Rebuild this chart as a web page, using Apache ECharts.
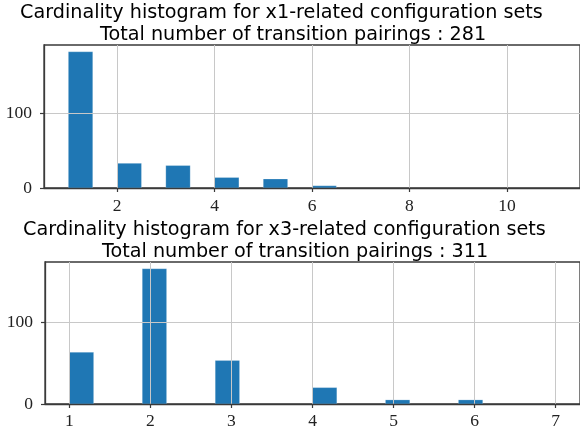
<!DOCTYPE html>
<html>
<head>
<meta charset="utf-8">
<script src="https://cdn.jsdelivr.net/npm/echarts@6/dist/echarts.min.js"></script>
<style>
  html, body { margin: 0; padding: 0; background: #fff; }
  #chart { width: 580px; height: 434px; }
</style>
</head>
<body>
<div id="chart"></div>
<script>
// x1-related configuration sets: histogram bins (left edge, right edge) and counts
const x1BinStart = [1, 2, 3, 4, 5, 6];
const x1BinEnd = [1.5, 2.5, 3.5, 4.5, 5.5, 6.5];
const x1Counts = [182, 33, 30, 14, 12, 3];
const x1Total = 281;
const x1Ticks = [2, 4, 6, 8, 10];

// x3-related configuration sets
const x3BinStart = [1, 1.9, 2.8, 4.0, 4.9, 5.8];
const x3BinEnd = [1.3, 2.2, 3.1, 4.3, 5.2, 6.1];
const x3Counts = [63, 165, 53, 20, 5, 5];
const x3Total = 311;
const x3Ticks = [1, 2, 3, 4, 5, 6, 7];

const yTicks = [0, 100];

const barColor = '#1f77b4';
const spineColor = '#3a3a3a';
const gridColor = '#c8c8c8';
const titleFont = { fontFamily: 'DejaVu Sans', fontSize: 19.2, fontWeight: 'normal', color: '#000' };
const tickFont = { fontFamily: 'Liberation Serif', fontSize: 17.5, color: '#222' };

function rows(starts, ends, counts) {
  return starts.map((s, i) => [s, ends[i], counts[i]]);
}

function renderBin(params, api) {
  const base = api.coord([api.value(0), 0]);
  const top = api.coord([api.value(1), api.value(2)]);
  return {
    type: 'rect',
    shape: { x: base[0], y: top[1], width: top[0] - base[0], height: base[1] - top[1] },
    style: { fill: barColor, stroke: 'rgba(255,255,255,0.35)', lineWidth: 0.6 }
  };
}

function xAxisFor(gridIndex, min, max, ticks, labelMargin) {
  return {
    type: 'value', gridIndex, min, max, z: 3,
    axisLine: { show: true, lineStyle: { color: spineColor, width: 1.3 } },
    axisTick: { show: true, customValues: ticks, length: 4, lineStyle: { color: spineColor, width: 1.2 } },
    axisLabel: Object.assign({ customValues: ticks, margin: labelMargin }, tickFont),
    splitLine: { show: true, lineStyle: { color: gridColor, width: 1 } }
  };
}

function yAxisFor(gridIndex, max) {
  return {
    type: 'value', gridIndex, min: 0, max, z: 3,
    axisLine: { show: true, lineStyle: { color: spineColor, width: 1.3 } },
    axisTick: { show: true, customValues: yTicks, length: 4, lineStyle: { color: spineColor, width: 1.2 } },
    axisLabel: Object.assign({ customValues: yTicks, margin: 12 }, tickFont),
    splitLine: { show: true, lineStyle: { color: gridColor, width: 1 } }
  };
}

const chart = echarts.init(document.getElementById('chart'), null, { renderer: 'canvas' });

chart.setOption({
  animation: false,
  backgroundColor: '#fff',
  title: [
    { text: 'Cardinality histogram for x1-related configuration sets', left: 20, top: 4, padding: 0, textStyle: titleFont },
    { text: 'Total number of transition pairings : ' + x1Total, left: 100, top: 26, padding: 0, textStyle: titleFont },
    { text: 'Cardinality histogram for x3-related configuration sets', left: 23, top: 221, padding: 0, textStyle: titleFont },
    { text: 'Total number of transition pairings : ' + x3Total, left: 102, top: 243, padding: 0, textStyle: titleFont }
  ],
  grid: [
    { left: 44, top: 45, width: 537, height: 143, show: true, borderColor: spineColor, borderWidth: 1.3, backgroundColor: 'transparent' },
    { left: 45, top: 262, width: 538, height: 142, show: true, borderColor: spineColor, borderWidth: 1.3, backgroundColor: 'transparent' }
  ],
  xAxis: [
    xAxisFor(0, 0.5, 11.5, x1Ticks, 9),
    xAxisFor(1, 0.7, 7.3, x3Ticks, 8)
  ],
  yAxis: [
    yAxisFor(0, Math.max(...x1Counts) * 1.05),
    yAxisFor(1, Math.max(...x3Counts) * 1.05)
  ],
  series: [
    {
      type: 'custom', xAxisIndex: 0, yAxisIndex: 0,
      renderItem: renderBin,
      encode: { x: [0, 1], y: 2 },
      data: rows(x1BinStart, x1BinEnd, x1Counts)
    },
    {
      type: 'custom', xAxisIndex: 1, yAxisIndex: 1,
      renderItem: renderBin,
      encode: { x: [0, 1], y: 2 },
      data: rows(x3BinStart, x3BinEnd, x3Counts)
    }
  ]
});
</script>
</body>
</html>
